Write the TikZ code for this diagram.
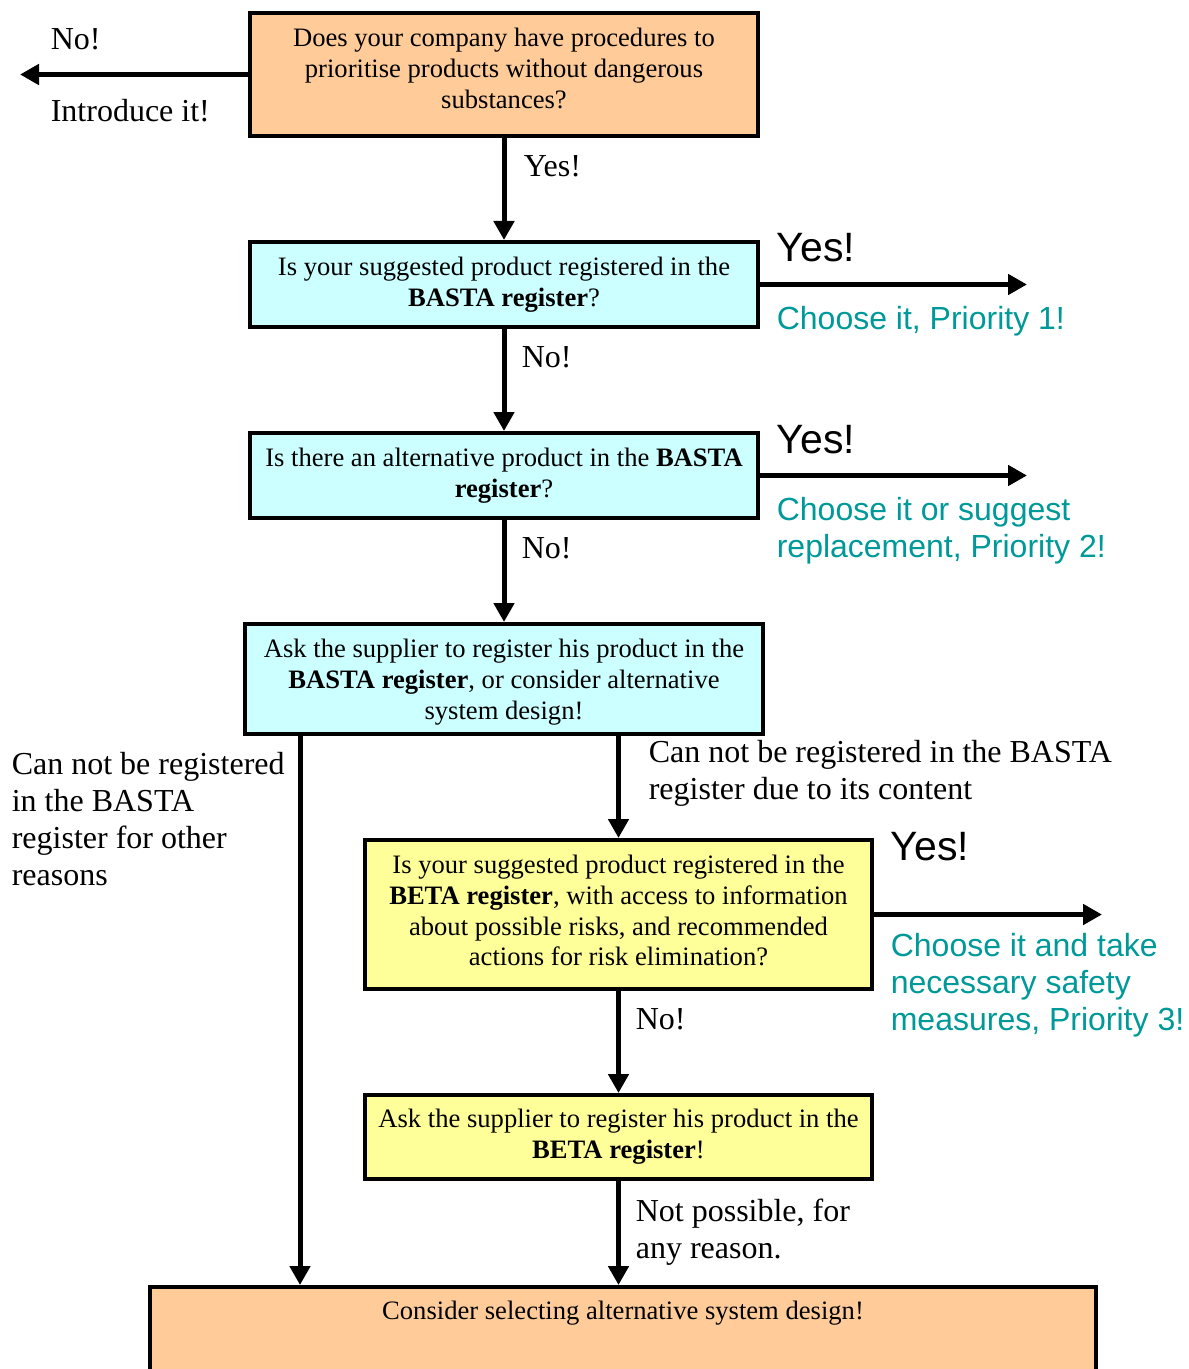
\documentclass[tikz,border=0pt]{standalone}
\usepackage{fontspec}
\setmainfont{Liberation Serif}
\setsansfont{Liberation Sans}
\usepackage{xcolor}
\usetikzlibrary{arrows.meta,positioning,calc}
\definecolor{peach}{HTML}{FFCC99}
\definecolor{paleblue}{HTML}{CCFFFF}
\definecolor{paleyellow}{HTML}{FFFF99}
\definecolor{prio}{HTML}{009999}

\begin{document}
\begin{tikzpicture}[x=0.5pt, y=-0.5pt, thick]
% Define styles for different types of nodes
\tikzstyle{block} = [rectangle, draw, line width=2pt, align=center, inner sep=0pt, font=\fontsize{13.3pt}{15.4pt}\selectfont]
\tikzstyle{startbox} = [block, fill=peach]
\tikzstyle{bastabox} = [block, fill=paleblue]
\tikzstyle{betabox} = [block, fill=paleyellow]
\tikzstyle{line} = [draw, line width=2.5pt, -{Triangle[length=9.5pt,width=10pt]}]
\tikzstyle{reply} = [anchor=north west, inner sep=0pt, align=left, font=\fontsize{16pt}{18.5pt}\selectfont]
\tikzstyle{yeslabel} = [anchor=north west, inner sep=0pt, font=\sffamily\fontsize{20.5pt}{24pt}\selectfont]
\tikzstyle{priority} = [anchor=north west, inner sep=0pt, align=left, text=prio, font=\sffamily\fontsize{16pt}{18.5pt}\selectfont]

\useasboundingbox (0,0) rectangle (1188,1369);

% Place nodes
\node [startbox, minimum width=254pt, minimum height=61.5pt, text depth=6pt] (procedures) at (504,74.5) {Does your company have procedures to\\ prioritise products without dangerous\\ substances?};
\node [bastabox, minimum width=254pt, minimum height=42.5pt] (inbasta) at (504,284.5) {Is your suggested product registered in the\\ \textbf{BASTA register}?};
\node [bastabox, minimum width=254pt, minimum height=42.5pt] (altbasta) at (504,475.5) {Is there an alternative product in the \textbf{BASTA}\\ \textbf{register}?};
\node [bastabox, minimum width=259pt, minimum height=55pt, text depth=0pt] (askbasta) at (504,679) {Ask the supplier to register his product in the\\ \textbf{BASTA register}, or consider alternative\\ system design!};
\node [betabox, minimum width=253.5pt, minimum height=74.5pt, text depth=4pt] (inbeta) at (618.5,914.5) {Is your suggested product registered in the\\ \textbf{BETA register}, with access to information\\ about possible risks, and recommended\\ actions for risk elimination?};
\node [betabox, minimum width=253.5pt, minimum height=42pt] (askbeta) at (618.5,1137) {Ask the supplier to register his product in the\\ \textbf{BETA register}!};
\node [startbox, anchor=north, minimum width=473pt, inner ysep=6pt, text height=10pt, text depth=50pt] (altdesign) at (623,1285) {Consider selecting alternative system design!};

% Free ends of arrows
\coordinate (introduce) at (20,74.5);
\coordinate (prio1) at (1027,284.5);
\coordinate (prio2) at (1027,475.5);
\coordinate (prio3) at (1102,914.5);
\coordinate (rail) at (300,700);

% Connect nodes with arrows
\path [line] (procedures) -- (introduce);
\path [line] (procedures) -- (inbasta);
\path [line] (inbasta) -- (prio1);
\path [line] (inbasta) -- (altbasta);
\path [line] (altbasta) -- (prio2);
\path [line] (altbasta) -- (askbasta);
\path [line] (rail |- askbasta.south) -- (rail |- altdesign.north);
\path [line] (inbeta.north |- askbasta.south) -- (inbeta.north);
\path [line] (inbeta) -- (prio3);
\path [line] (inbeta) -- (askbeta);
\path [line] (askbeta) -- (askbeta.south |- altdesign.north);

% Add labels to arrows
\node [reply] (no1) at (50,28) {No!};
\node [reply] (intro) at (50,99) {Introduce it!};
\node [reply] (yes1) at (523,155) {Yes!};
\node [reply] (no2) at (521,346) {No!};
\node [reply] (no3) at (521,537) {No!};
\node [reply] (otherwhy) at (11,751) {Can not be registered\\ in the BASTA\\ register for other\\ reasons};
\node [reply] (contentwhy) at (648,739) {Can not be registered in the BASTA\\ register due to its content};
\node [reply] (no4) at (635,1008) {No!};
\node [reply] (notpossible) at (635,1198) {Not possible, for\\ any reason.};
\node [yeslabel] (yes2) at (776,232) {Yes!};
\node [yeslabel] (yes3) at (776,424) {Yes!};
\node [yeslabel] (yes4) at (890,831) {Yes!};
\node [priority] (choose1) at (776,306) {Choose it, Priority 1!};
\node [priority] (choose2) at (776,497) {Choose it or suggest\\ replacement, Priority 2!};
\node [priority] (choose3) at (890,933) {Choose it and take\\ necessary safety\\ measures, Priority 3!};

\end{tikzpicture}
\end{document}
